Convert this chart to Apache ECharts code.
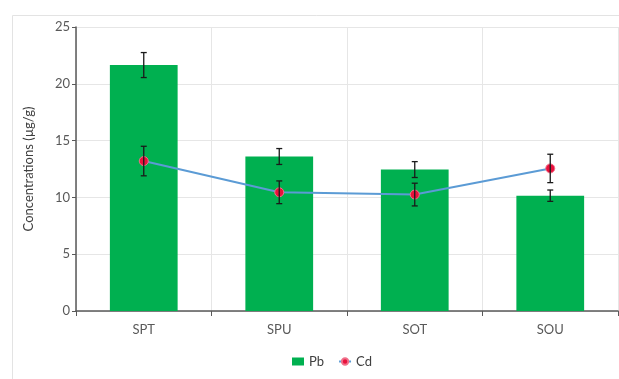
<!DOCTYPE html>
<html>
<head>
<meta charset="utf-8">
<script src="https://cdn.jsdelivr.net/npm/echarts@6/dist/echarts.min.js"></script>
<style>html,body{margin:0;padding:0;background:#fff;}#c{width:619px;height:379px;}</style>
</head>
<body>
<div id="c"></div>
<script>
const categories = ['SPT', 'SPU', 'SOT', 'SOU'];
const pbValues = [21.65, 13.6, 12.45, 10.15];
const pbErrors = [1.1, 0.7, 0.7, 0.5];
const cdValues = [13.2, 10.45, 10.25, 12.55];
const cdErrors = [1.3, 1.0, 1.0, 1.25];
const yTicks = { min: 0, max: 25, interval: 5 };

const FONT = 'Lato, "Open Sans", sans-serif';

function errData(vals, errs) {
  return vals.map((v, i) => [i, v - errs[i], v + errs[i]]);
}
function errRender(params, api) {
  const x = api.value(0);
  const lo = api.coord([x, api.value(1)]);
  const hi = api.coord([x, api.value(2)]);
  const cap = 3;
  const st = { stroke: '#1a1a1a', lineWidth: 1.3 };
  return {
    type: 'group',
    children: [
      { type: 'line', shape: { x1: lo[0], y1: lo[1], x2: hi[0], y2: hi[1] }, style: st },
      { type: 'line', shape: { x1: hi[0] - cap, y1: hi[1], x2: hi[0] + cap, y2: hi[1] }, style: st },
      { type: 'line', shape: { x1: lo[0] - cap, y1: lo[1], x2: lo[0] + cap, y2: lo[1] }, style: st }
    ]
  };
}

const chart = echarts.init(document.getElementById('c'), null, { renderer: 'canvas' });
chart.setOption({
  animation: false,
  backgroundColor: '#fff',
  graphic: [{
    type: 'rect', left: 10, top: 13, z: -10,
    shape: { width: 640, height: 400 },
    style: { fill: 'none', stroke: '#e3e3e3', lineWidth: 1 }
  }],
  grid: { left: 76, right: 1, top: 27, bottom: 68 },
  legend: {
    bottom: 6, left: 287, itemGap: 14,
    textStyle: { fontFamily: FONT, fontSize: 13, color: '#404040' },
    data: [
      { name: 'Pb', icon: 'rect', itemStyle: { color: '#00b050' } },
      { name: 'Cd' }
    ],
    itemWidth: 12, itemHeight: 8
  },
  xAxis: {
    type: 'category',
    data: categories,
    axisLine: { lineStyle: { color: '#595959', width: 1.5 } },
    axisTick: { show: true, length: 5, lineStyle: { color: '#595959' } },
    axisLabel: { fontFamily: FONT, fontSize: 13, color: '#595959', margin: 12 },
    splitLine: { show: true, lineStyle: { color: '#e6e6e6' } }
  },
  yAxis: {
    type: 'value',
    min: yTicks.min, max: yTicks.max, interval: yTicks.interval,
    name: 'Concentrations (µg/g)',
    nameLocation: 'middle', nameGap: 41,
    nameTextStyle: { fontFamily: FONT, fontSize: 13, color: '#404040' },
    axisLine: { show: true, lineStyle: { color: '#595959', width: 1.5 } },
    axisTick: { show: true, length: 4, lineStyle: { color: '#595959' } },
    axisLabel: { fontFamily: FONT, fontSize: 13, color: '#595959', margin: 6 },
    splitLine: { show: true, lineStyle: { color: '#e6e6e6' } }
  },
  series: [
    {
      name: 'Pb', type: 'bar', data: pbValues, barWidth: '50%',
      itemStyle: { color: '#00b050' }, z: 2
    },
    {
      name: 'PbErr', type: 'custom', renderItem: errRender,
      data: errData(pbValues, pbErrors), z: 5, silent: true
    },
    {
      name: 'Cd', type: 'line', data: cdValues,
      symbol: 'circle', symbolSize: 9,
      lineStyle: { color: '#5b9bd5', width: 2 },
      itemStyle: { color: '#e8103c', borderColor: '#f0708a', borderWidth: 1 },
      z: 6
    },
    {
      name: 'CdErr', type: 'custom', renderItem: errRender,
      data: errData(cdValues, cdErrors), z: 7, silent: true
    }
  ]
});
</script>
</body>
</html>
